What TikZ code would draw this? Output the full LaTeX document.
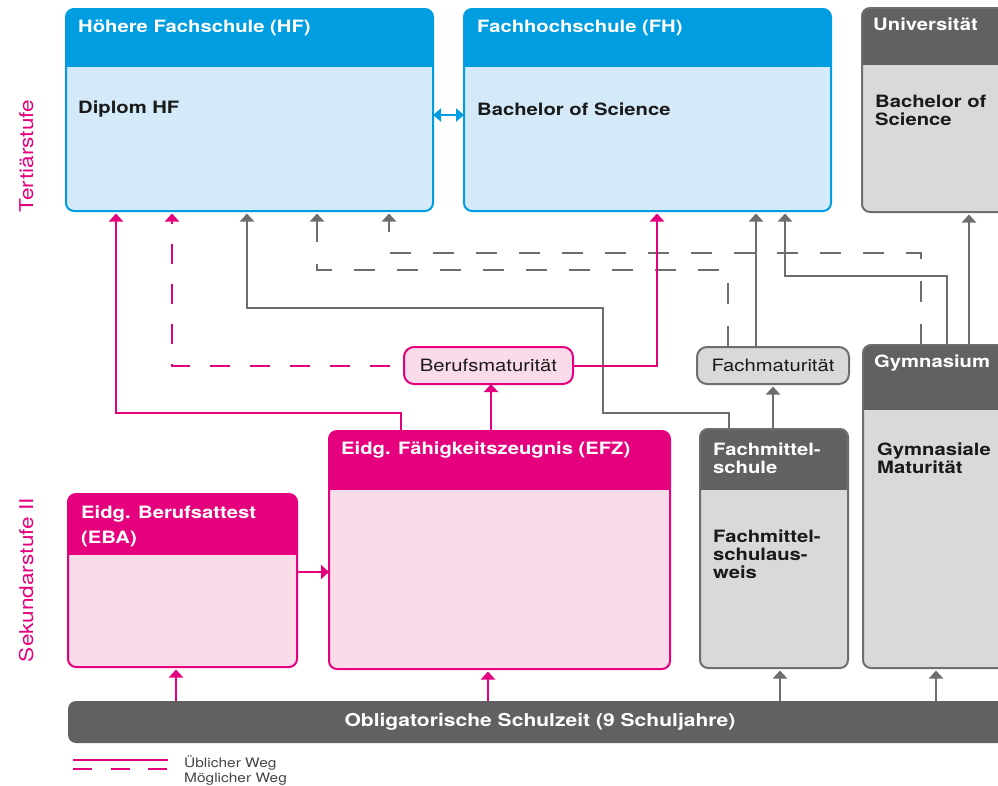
\documentclass[tikz,border=0pt]{standalone}
\usepackage{fontspec}
\setmainfont{TeX Gyre Heros}[FakeStretch=1.19]
\usetikzlibrary{arrows.meta}
\definecolor{cblue}{HTML}{009EE0}
\definecolor{cbluel}{HTML}{D4EAF9}
\definecolor{cpink}{HTML}{E5007D}
\definecolor{cpinkl}{HTML}{F9DBE9}
\definecolor{cgray}{HTML}{616161}
\definecolor{cgrayl}{HTML}{D9D9D9}
\definecolor{cline}{HTML}{6E6E6E}
\definecolor{ctext}{HTML}{1A1A1A}
\definecolor{clegend}{HTML}{444444}

% name, x1, y1, x2, y2, yheader, headcolor, bodycolor, bordercolor
\newcommand\panel[9]{%
  \node[box, fill=#8, minimum width={#4pt-#2pt}, minimum height={#5pt-#3pt}] (#1) at (#2,#3) {};
  \begin{scope}
    \clip[rounded corners=8pt] (#1.north west) rectangle (#1.south east);
    \fill[#7] (#1.north west) rectangle (#4,#6);
  \end{scope}
  \draw[#9, line width=2pt, rounded corners=8pt] (#1.north west) rectangle (#1.south east);
}

\begin{document}
\begin{tikzpicture}[x=1pt,y=-1pt,
  box/.style={rectangle, rounded corners=8pt, inner sep=0pt, outer sep=0pt, anchor=north west},
  ttl/.style={anchor=base west, inner sep=0pt, text=white, font=\bfseries\fontsize{17}{18}\selectfont},
  lbl/.style={anchor=base west, inner sep=0pt, text=ctext, font=\bfseries\fontsize{17}{18}\selectfont},
  pill/.style={rectangle, rounded corners=10pt, line width=2pt, inner sep=0pt, outer sep=0pt,
               anchor=north west, font=\fontsize{17}{18}\selectfont, text=ctext},
  conn/.style={line width=2pt, -{Triangle[width=14pt,length=8pt]}},
  pk/.style={conn, draw=cpink},
  gr/.style={conn, draw=cline},
  toup/.style={shorten >=2.5pt},
  pdash/.style={dash pattern=on 20pt off 20pt},
  gdash/.style={dash pattern=on 21.5pt off 21.5pt},
  stage/.style={rotate=90, anchor=base, inner sep=0pt, text=cpink, font=\fontsize{19}{20}\selectfont},
  legtxt/.style={anchor=base west, inner sep=0pt, text=clegend, font=\fontsize{13}{14}\selectfont},
]
\useasboundingbox (0,0) rectangle (998,785);
\fill[white] (0,0) rectangle (998,785);

% stage labels
\node[stage] (tert) at (33,156) {Tertiärstufe};
\node[stage] (sek) at (33,580) {Sekundarstufe II};

% tertiary panels
\panel{hf}{66}{9}{433}{211}{67}{cblue}{cbluel}{cblue}
\node[ttl] (hft) at (78,32) {Höhere Fachschule (HF)};
\node[lbl] (hfb) at (78,113) {Diplom HF};

\panel{fh}{464}{9}{831}{211}{67}{cblue}{cbluel}{cblue}
\node[ttl] (fht) at (477,32) {Fachhochschule (FH)};
\node[lbl] (fhb) at (477,115) {Bachelor of Science};

\panel{uni}{862}{8}{1012}{212}{65}{cgray}{cgrayl}{cline}
\node[ttl] (unit) at (873,30) {Universität};
\node[lbl] (unib1) at (875,107) {Bachelor of};
\node[lbl] (unib2) at (875,125) {Science};

% secondary panels
\panel{eba}{68}{494}{297}{667}{555}{cpink}{cpinkl}{cpink}
\node[ttl] (ebat1) at (81,518) {Eidg. Berufsattest};
\node[ttl] (ebat2) at (81,543) {(EBA)};

\panel{efz}{329}{431}{670}{669}{490}{cpink}{cpinkl}{cpink}
\node[ttl] (efzt) at (341,454) {Eidg. Fähigkeitszeugnis (EFZ)};

\panel{fms}{700}{429}{848}{668}{490}{cgray}{cgrayl}{cline}
\node[ttl] (fmst1) at (713,455) {Fachmittel-};
\node[ttl] (fmst2) at (713,473) {schule};
\node[lbl] (fmsb1) at (713,542) {Fachmittel-};
\node[lbl] (fmsb2) at (713,560) {schulaus-};
\node[lbl] (fmsb3) at (713,578) {weis};

\panel{gym}{863}{345}{1012}{668}{410}{cgray}{cgrayl}{cline}
\node[ttl] (gymt) at (874,367) {Gymnasium};
\node[lbl] (gymb1) at (877,455) {Gymnasiale};
\node[lbl] (gymb2) at (877,473) {Maturität};

% maturity pills
\node[pill, draw=cpink, fill=cpinkl, minimum width=169pt, minimum height=37pt] (bm) at (404,347) {Berufsmaturität};
\node[pill, draw=cline, fill=cgrayl, minimum width=152pt, minimum height=37pt] (fm) at (697,347) {Fachmaturität};

% compulsory school bar
\node[box, fill=cgray, minimum width=944pt, minimum height=42pt, text=white,
      font=\bfseries\fontsize{17.7}{18}\selectfont] (sch) at (68,701) {Obligatorische Schulzeit (9 Schuljahre)};

% connectors into HF
\draw[pk, toup] ([xshift=72pt]efz.north west) -- ++(0,-18) -| ([xshift=50pt]hf.south west);
\draw[pk, toup, pdash, dash phase=26pt] (bm.west) -| ([xshift=106pt]hf.south west);
\draw[gr, toup] ([xshift=29pt]fms.north west) -- ++(0,-16) -| ++(-126,-105) -| ([xshift=181pt]hf.south west);
\draw[gr, toup, gdash] ([xshift=31pt]fm.north west) -- ++(0,-77) -| ([xshift=251pt]hf.south west);
\draw[gr, toup, gdash] ([xshift=58pt]gym.north west) -- ++(0,-92) -| ([xshift=323pt]hf.south west);

% connectors into FH and Universitaet
\draw[pk, toup] (bm.east) -| ([xshift=193pt]fh.south west);
\draw[gr, toup] ([xshift=59pt]fm.north west) -- ([xshift=292pt]fh.south west);
\draw[gr, toup] ([xshift=84pt]gym.north west) -- ++(0,-69) -| ([xshift=321pt]fh.south west);
\draw[gr, toup] ([xshift=106pt]gym.north west) -- ([xshift=107pt]uni.south west);

% HF <-> FH
\draw[line width=2pt, draw=cblue, {Triangle[width=13pt,length=8pt]}-{Triangle[width=13pt,length=8pt]}]
  ([yshift=-5pt]hf.east) -- ([yshift=-5pt]fh.west);

% secondary connectors
\draw[pk] ([xshift=162pt]efz.north west) -- ([xshift=87pt]bm.south west);
\draw[gr, toup] ([xshift=73pt]fms.north west) -- ([xshift=76pt]fm.south west);
\draw[pk] ([yshift=8.5pt]eba.east) -- ([yshift=-22pt]efz.west);

% from compulsory school
\draw[pk, toup] ([xshift=108pt]sch.north west) -- ([xshift=108pt]eba.south west);
\draw[pk, toup] ([xshift=420pt]sch.north west) -- ([xshift=159pt]efz.south west);
\draw[gr, toup] ([xshift=712pt]sch.north west) -- ([xshift=80pt]fms.south west);
\draw[gr, toup] ([xshift=868pt]sch.north west) -- ([xshift=73pt]gym.south west);

% legend
\coordinate (l1a) at (73,760);
\coordinate (l1b) at (168,760);
\coordinate (l2a) at (73,769);
\coordinate (l2b) at (168,769);
\draw[cpink, line width=2pt] (l1a) -- (l1b);
\draw[cpink, line width=2pt, dash pattern=on 19pt off 18.5pt] (l2a) -- (l2b);
\node[legtxt] (leg1) at (184,767) {Üblicher Weg};
\node[legtxt] (leg2) at (184,782) {Möglicher Weg};
\end{tikzpicture}
\end{document}
